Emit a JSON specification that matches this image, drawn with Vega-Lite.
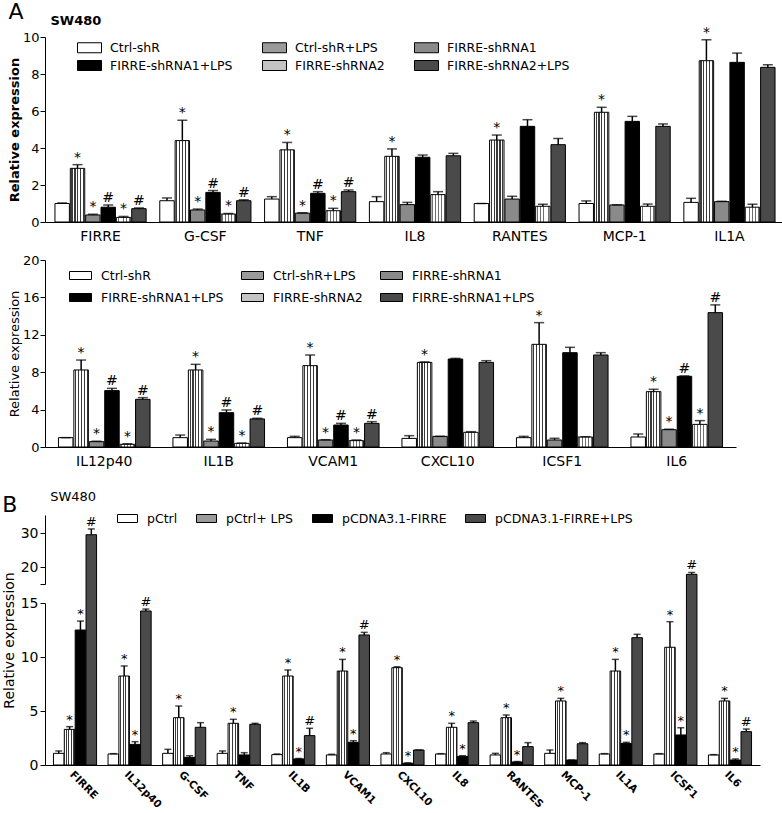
{
 "$schema": "https://vega.github.io/schema/vega-lite/v6.json",
 "padding": {"left": 2, "top": 0, "right": 0, "bottom": 0},
 "background": "white",
 "config": {
  "font": "DejaVu Sans",
  "view": {"stroke": null},
  "axis": {"domainColor": "#000", "tickColor": "#000", "labelColor": "#000", "titleColor": "#000", "grid": false, "domainWidth": 1, "tickWidth": 1, "labelOverlap": false},
  "legend": {"labelColor": "#000"},
  "title": {"color": "#000", "subtitleColor": "#000"}
 },
 "columns": 1, "align": "none", "spacing": 23,
 "resolve": {"scale": {"fill": "independent", "xOffset": "independent", "x": "independent", "y": "independent"}, "legend": {"fill": "independent"}},
 "datasets": {
  "a1": [
   {"g":"FIRRE","s":"Ctrl-shR","v":1.0,"hi":1.03,"lab":""},
   {"g":"FIRRE","s":"Ctrl-shR+LPS","v":2.9,"hi":3.1,"lab":"*"},
   {"g":"FIRRE","s":"FIRRE-shRNA1","v":0.38,"hi":0.42,"lab":"*"},
   {"g":"FIRRE","s":"FIRRE-shRNA1+LPS","v":0.8,"hi":0.92,"lab":"#"},
   {"g":"FIRRE","s":"FIRRE-shRNA2","v":0.25,"hi":0.3,"lab":"*"},
   {"g":"FIRRE","s":"FIRRE-shRNA2+LPS","v":0.72,"hi":0.76,"lab":"#"},
   {"g":"G-CSF","s":"Ctrl-shR","v":1.15,"hi":1.3,"lab":""},
   {"g":"G-CSF","s":"Ctrl-shR+LPS","v":4.4,"hi":5.5,"lab":"*"},
   {"g":"G-CSF","s":"FIRRE-shRNA1","v":0.65,"hi":0.7,"lab":"*"},
   {"g":"G-CSF","s":"FIRRE-shRNA1+LPS","v":1.6,"hi":1.7,"lab":"#"},
   {"g":"G-CSF","s":"FIRRE-shRNA2","v":0.43,"hi":0.46,"lab":"*"},
   {"g":"G-CSF","s":"FIRRE-shRNA2+LPS","v":1.15,"hi":1.2,"lab":"#"},
   {"g":"TNF","s":"Ctrl-shR","v":1.24,"hi":1.37,"lab":""},
   {"g":"TNF","s":"Ctrl-shR+LPS","v":3.9,"hi":4.3,"lab":"*"},
   {"g":"TNF","s":"FIRRE-shRNA1","v":0.48,"hi":0.5,"lab":"*"},
   {"g":"TNF","s":"FIRRE-shRNA1+LPS","v":1.55,"hi":1.64,"lab":"#"},
   {"g":"TNF","s":"FIRRE-shRNA2","v":0.61,"hi":0.74,"lab":"*"},
   {"g":"TNF","s":"FIRRE-shRNA2+LPS","v":1.64,"hi":1.73,"lab":"#"},
   {"g":"IL8","s":"Ctrl-shR","v":1.1,"hi":1.37,"lab":""},
   {"g":"IL8","s":"Ctrl-shR+LPS","v":3.55,"hi":3.95,"lab":"*"},
   {"g":"IL8","s":"FIRRE-shRNA1","v":0.94,"hi":1.06,"lab":""},
   {"g":"IL8","s":"FIRRE-shRNA1+LPS","v":3.5,"hi":3.62,"lab":""},
   {"g":"IL8","s":"FIRRE-shRNA2","v":1.48,"hi":1.64,"lab":""},
   {"g":"IL8","s":"FIRRE-shRNA2+LPS","v":3.58,"hi":3.71,"lab":""},
   {"g":"RANTES","s":"Ctrl-shR","v":1.0,"hi":1.0,"lab":""},
   {"g":"RANTES","s":"Ctrl-shR+LPS","v":4.43,"hi":4.7,"lab":"*"},
   {"g":"RANTES","s":"FIRRE-shRNA1","v":1.24,"hi":1.39,"lab":""},
   {"g":"RANTES","s":"FIRRE-shRNA1+LPS","v":5.17,"hi":5.53,"lab":""},
   {"g":"RANTES","s":"FIRRE-shRNA2","v":0.85,"hi":0.96,"lab":""},
   {"g":"RANTES","s":"FIRRE-shRNA2+LPS","v":4.18,"hi":4.52,"lab":""},
   {"g":"MCP-1","s":"Ctrl-shR","v":1.0,"hi":1.14,"lab":""},
   {"g":"MCP-1","s":"Ctrl-shR+LPS","v":5.93,"hi":6.2,"lab":"*"},
   {"g":"MCP-1","s":"FIRRE-shRNA1","v":0.92,"hi":0.93,"lab":""},
   {"g":"MCP-1","s":"FIRRE-shRNA1+LPS","v":5.44,"hi":5.71,"lab":""},
   {"g":"MCP-1","s":"FIRRE-shRNA2","v":0.85,"hi":0.97,"lab":""},
   {"g":"MCP-1","s":"FIRRE-shRNA2+LPS","v":5.17,"hi":5.3,"lab":""},
   {"g":"IL1A","s":"Ctrl-shR","v":1.06,"hi":1.28,"lab":""},
   {"g":"IL1A","s":"Ctrl-shR+LPS","v":8.72,"hi":9.85,"lab":"*"},
   {"g":"IL1A","s":"FIRRE-shRNA1","v":1.1,"hi":1.12,"lab":""},
   {"g":"IL1A","s":"FIRRE-shRNA1+LPS","v":8.63,"hi":9.13,"lab":""},
   {"g":"IL1A","s":"FIRRE-shRNA2","v":0.8,"hi":0.96,"lab":""},
   {"g":"IL1A","s":"FIRRE-shRNA2+LPS","v":8.36,"hi":8.5,"lab":""}
  ],
  "a2": [
   {"g":"IL12p40","s":"Ctrl-shR","v":1.0,"hi":1.0,"lab":""},
   {"g":"IL12p40","s":"Ctrl-shR+LPS","v":8.24,"hi":9.3,"lab":"*"},
   {"g":"IL12p40","s":"FIRRE-shRNA1","v":0.57,"hi":0.62,"lab":"*"},
   {"g":"IL12p40","s":"FIRRE-shRNA1+LPS","v":6.03,"hi":6.27,"lab":"#"},
   {"g":"IL12p40","s":"FIRRE-shRNA2","v":0.29,"hi":0.35,"lab":"*"},
   {"g":"IL12p40","s":"FIRRE-shRNA2+LPS","v":5.1,"hi":5.28,"lab":"#"},
   {"g":"IL1B","s":"Ctrl-shR","v":1.0,"hi":1.28,"lab":""},
   {"g":"IL1B","s":"Ctrl-shR+LPS","v":8.24,"hi":8.84,"lab":"*"},
   {"g":"IL1B","s":"FIRRE-shRNA1","v":0.64,"hi":0.82,"lab":"*"},
   {"g":"IL1B","s":"FIRRE-shRNA1+LPS","v":3.67,"hi":3.96,"lab":"#"},
   {"g":"IL1B","s":"FIRRE-shRNA2","v":0.39,"hi":0.42,"lab":"*"},
   {"g":"IL1B","s":"FIRRE-shRNA2+LPS","v":3.0,"hi":3.07,"lab":"#"},
   {"g":"VCAM1","s":"Ctrl-shR","v":1.0,"hi":1.14,"lab":""},
   {"g":"VCAM1","s":"Ctrl-shR+LPS","v":8.7,"hi":9.84,"lab":"*"},
   {"g":"VCAM1","s":"FIRRE-shRNA1","v":0.75,"hi":0.78,"lab":"*"},
   {"g":"VCAM1","s":"FIRRE-shRNA1+LPS","v":2.35,"hi":2.53,"lab":"#"},
   {"g":"VCAM1","s":"FIRRE-shRNA2","v":0.68,"hi":0.75,"lab":"*"},
   {"g":"VCAM1","s":"FIRRE-shRNA2+LPS","v":2.53,"hi":2.71,"lab":"#"},
   {"g":"CXCL10","s":"Ctrl-shR","v":0.92,"hi":1.21,"lab":""},
   {"g":"CXCL10","s":"Ctrl-shR+LPS","v":9.05,"hi":9.1,"lab":"*"},
   {"g":"CXCL10","s":"FIRRE-shRNA1","v":1.14,"hi":1.14,"lab":""},
   {"g":"CXCL10","s":"FIRRE-shRNA1+LPS","v":9.41,"hi":9.48,"lab":""},
   {"g":"CXCL10","s":"FIRRE-shRNA2","v":1.57,"hi":1.64,"lab":""},
   {"g":"CXCL10","s":"FIRRE-shRNA2+LPS","v":9.05,"hi":9.23,"lab":""},
   {"g":"ICSF1","s":"Ctrl-shR","v":1.0,"hi":1.14,"lab":""},
   {"g":"ICSF1","s":"Ctrl-shR+LPS","v":10.98,"hi":13.3,"lab":"*"},
   {"g":"ICSF1","s":"FIRRE-shRNA1","v":0.75,"hi":0.93,"lab":""},
   {"g":"ICSF1","s":"FIRRE-shRNA1+LPS","v":10.09,"hi":10.66,"lab":""},
   {"g":"ICSF1","s":"FIRRE-shRNA2","v":1.07,"hi":1.1,"lab":""},
   {"g":"ICSF1","s":"FIRRE-shRNA2+LPS","v":9.84,"hi":10.09,"lab":""},
   {"g":"IL6","s":"Ctrl-shR","v":1.07,"hi":1.39,"lab":""},
   {"g":"IL6","s":"Ctrl-shR+LPS","v":5.92,"hi":6.17,"lab":"*"},
   {"g":"IL6","s":"FIRRE-shRNA1","v":1.85,"hi":1.9,"lab":"*"},
   {"g":"IL6","s":"FIRRE-shRNA1+LPS","v":7.56,"hi":7.6,"lab":"#"},
   {"g":"IL6","s":"FIRRE-shRNA2","v":2.42,"hi":2.82,"lab":"*"},
   {"g":"IL6","s":"FIRRE-shRNA2+LPS","v":14.37,"hi":15.2,"lab":"#"}
  ],
  "b": [
   {"g":"FIRRE","s":"pCtrl","v":1.08,"hi":1.3,"lab":""},
   {"g":"FIRRE","s":"pCtrl+ LPS","v":3.3,"hi":3.55,"lab":"*"},
   {"g":"FIRRE","s":"pCDNA3.1-FIRRE","v":12.5,"hi":13.33,"lab":"*"},
   {"g":"FIRRE","s":"pCDNA3.1-FIRRE+LPS","v":29.5,"hi":31.2,"lab":"#"},
   {"g":"IL12p40","s":"pCtrl","v":1.02,"hi":1.05,"lab":""},
   {"g":"IL12p40","s":"pCtrl+ LPS","v":8.24,"hi":9.17,"lab":"*"},
   {"g":"IL12p40","s":"pCDNA3.1-FIRRE","v":1.91,"hi":2.16,"lab":"*"},
   {"g":"IL12p40","s":"pCDNA3.1-FIRRE+LPS","v":14.26,"hi":14.44,"lab":"#"},
   {"g":"G-CSF","s":"pCtrl","v":1.08,"hi":1.45,"lab":""},
   {"g":"G-CSF","s":"pCtrl+ LPS","v":4.38,"hi":5.46,"lab":"*"},
   {"g":"G-CSF","s":"pCDNA3.1-FIRRE","v":0.71,"hi":0.86,"lab":""},
   {"g":"G-CSF","s":"pCDNA3.1-FIRRE+LPS","v":3.49,"hi":3.92,"lab":""},
   {"g":"TNF","s":"pCtrl","v":1.08,"hi":1.3,"lab":""},
   {"g":"TNF","s":"pCtrl+ LPS","v":3.86,"hi":4.23,"lab":"*"},
   {"g":"TNF","s":"pCDNA3.1-FIRRE","v":0.93,"hi":1.14,"lab":""},
   {"g":"TNF","s":"pCDNA3.1-FIRRE+LPS","v":3.77,"hi":3.86,"lab":""},
   {"g":"IL1B","s":"pCtrl","v":0.96,"hi":1.02,"lab":""},
   {"g":"IL1B","s":"pCtrl+ LPS","v":8.24,"hi":8.8,"lab":"*"},
   {"g":"IL1B","s":"pCDNA3.1-FIRRE","v":0.56,"hi":0.6,"lab":"*"},
   {"g":"IL1B","s":"pCDNA3.1-FIRRE+LPS","v":2.72,"hi":3.4,"lab":"#"},
   {"g":"VCAM1","s":"pCtrl","v":0.93,"hi":0.99,"lab":""},
   {"g":"VCAM1","s":"pCtrl+ LPS","v":8.7,"hi":9.78,"lab":"*"},
   {"g":"VCAM1","s":"pCDNA3.1-FIRRE","v":2.1,"hi":2.25,"lab":"*"},
   {"g":"VCAM1","s":"pCDNA3.1-FIRRE+LPS","v":12.04,"hi":12.28,"lab":"#"},
   {"g":"CXCL10","s":"pCtrl","v":1.02,"hi":1.14,"lab":""},
   {"g":"CXCL10","s":"pCtrl+ LPS","v":9.01,"hi":9.1,"lab":"*"},
   {"g":"CXCL10","s":"pCDNA3.1-FIRRE","v":0.16,"hi":0.2,"lab":"*"},
   {"g":"CXCL10","s":"pCDNA3.1-FIRRE+LPS","v":1.39,"hi":1.39,"lab":""},
   {"g":"IL8","s":"pCtrl","v":1.02,"hi":1.05,"lab":""},
   {"g":"IL8","s":"pCtrl+ LPS","v":3.49,"hi":3.86,"lab":"*"},
   {"g":"IL8","s":"pCDNA3.1-FIRRE","v":0.8,"hi":0.86,"lab":"*"},
   {"g":"IL8","s":"pCDNA3.1-FIRRE+LPS","v":3.92,"hi":4.07,"lab":""},
   {"g":"RANTES","s":"pCtrl","v":0.93,"hi":1.08,"lab":""},
   {"g":"RANTES","s":"pCtrl+ LPS","v":4.38,"hi":4.63,"lab":"*"},
   {"g":"RANTES","s":"pCDNA3.1-FIRRE","v":0.28,"hi":0.32,"lab":"*"},
   {"g":"RANTES","s":"pCDNA3.1-FIRRE+LPS","v":1.7,"hi":2.07,"lab":""},
   {"g":"MCP-1","s":"pCtrl","v":1.08,"hi":1.39,"lab":""},
   {"g":"MCP-1","s":"pCtrl+ LPS","v":5.93,"hi":6.17,"lab":"*"},
   {"g":"MCP-1","s":"pCDNA3.1-FIRRE","v":0.46,"hi":0.46,"lab":""},
   {"g":"MCP-1","s":"pCDNA3.1-FIRRE+LPS","v":1.97,"hi":2.07,"lab":""},
   {"g":"IL1A","s":"pCtrl","v":1.02,"hi":1.05,"lab":""},
   {"g":"IL1A","s":"pCtrl+ LPS","v":8.7,"hi":9.78,"lab":"*"},
   {"g":"IL1A","s":"pCDNA3.1-FIRRE","v":2.0,"hi":2.1,"lab":"*"},
   {"g":"IL1A","s":"pCDNA3.1-FIRRE+LPS","v":11.79,"hi":12.1,"lab":""},
   {"g":"ICSF1","s":"pCtrl","v":1.02,"hi":1.05,"lab":""},
   {"g":"ICSF1","s":"pCtrl+ LPS","v":10.9,"hi":13.27,"lab":"*"},
   {"g":"ICSF1","s":"pCDNA3.1-FIRRE","v":2.78,"hi":3.45,"lab":"*"},
   {"g":"ICSF1","s":"pCDNA3.1-FIRRE+LPS","v":17.85,"hi":18.4,"lab":"#"},
   {"g":"IL6","s":"pCtrl","v":0.93,"hi":0.96,"lab":""},
   {"g":"IL6","s":"pCtrl+ LPS","v":5.93,"hi":6.17,"lab":"*"},
   {"g":"IL6","s":"pCDNA3.1-FIRRE","v":0.46,"hi":0.56,"lab":"*"},
   {"g":"IL6","s":"pCDNA3.1-FIRRE+LPS","v":3.09,"hi":3.33,"lab":"#"}
  ]
 },
 "concat": [
  {
   "title": {"text": "A", "anchor": "start", "fontSize": 22, "fontWeight": "normal", "offset": -9},
   "columns": 1, "align": "none", "spacing": 11,
   "resolve": {"scale": {"fill": "independent", "xOffset": "independent", "x": "independent", "y": "independent"}, "legend": {"fill": "independent"}},
   "concat": [
    {
     "title": {"text": "SW480", "anchor": "start", "fontSize": 13, "fontWeight": "bold", "dx": 42, "offset": -2},
     "width": 740, "height": 185,
     "data": {"name": "a1"},
     "encoding": {
      "x": {"field": "g", "type": "nominal", "sort": null, "scale": {"paddingInner": 0.13, "paddingOuter": 0.095}, "axis": {"title": null, "ticks": false, "labelAngle": 0, "labelFontSize": 14, "labelPadding": 7}},
      "xOffset": {"field": "s", "type": "nominal", "sort": null, "scale": {"paddingInner": 0.06}}
     },
     "layer": [
      {"mark": {"type": "bar", "stroke": "#000", "strokeWidth": 1},
       "encoding": {
        "y": {"field": "v", "type": "quantitative", "scale": {"domain": [0, 10], "nice": false}, "axis": {"values": [0, 2, 4, 6, 8, 10], "tickCount": 12, "labelOverlap": false, "labelFlush": false, "title": "Relative expression", "titleFontWeight": "bold", "titleFontSize": 13, "labelFontSize": 13, "tickSize": 5, "titlePadding": 1, "labelPadding": 1}},
        "fill": {"field": "s", "type": "nominal", "sort": null,
         "condition": [
          {"test": "datum.s === 'Ctrl-shR+LPS'", "value": {"gradient": "linear", "x1": 0, "y1": 0, "x2": 1, "y2": 0, "stops": [{"offset": 0, "color": "#ffffff"}, {"offset": 0.08, "color": "#ffffff"}, {"offset": 0.08, "color": "#3a3a3a"}, {"offset": 0.16, "color": "#3a3a3a"}, {"offset": 0.16, "color": "#ffffff"}, {"offset": 0.28, "color": "#ffffff"}, {"offset": 0.28, "color": "#3a3a3a"}, {"offset": 0.36, "color": "#3a3a3a"}, {"offset": 0.36, "color": "#ffffff"}, {"offset": 0.48, "color": "#ffffff"}, {"offset": 0.48, "color": "#3a3a3a"}, {"offset": 0.56, "color": "#3a3a3a"}, {"offset": 0.56, "color": "#ffffff"}, {"offset": 0.68, "color": "#ffffff"}, {"offset": 0.68, "color": "#3a3a3a"}, {"offset": 0.76, "color": "#3a3a3a"}, {"offset": 0.76, "color": "#ffffff"}, {"offset": 0.88, "color": "#ffffff"}, {"offset": 0.88, "color": "#3a3a3a"}, {"offset": 0.96, "color": "#3a3a3a"}, {"offset": 0.96, "color": "#ffffff"}, {"offset": 1, "color": "#ffffff"}]}},
          {"test": "datum.s === 'FIRRE-shRNA2'", "value": {"gradient": "linear", "x1": 0, "y1": 0, "x2": 1, "y2": 0, "stops": [{"offset": 0, "color": "#ffffff"}, {"offset": 0.09, "color": "#ffffff"}, {"offset": 0.09, "color": "#707070"}, {"offset": 0.15, "color": "#707070"}, {"offset": 0.15, "color": "#ffffff"}, {"offset": 0.29, "color": "#ffffff"}, {"offset": 0.29, "color": "#707070"}, {"offset": 0.35, "color": "#707070"}, {"offset": 0.35, "color": "#ffffff"}, {"offset": 0.49, "color": "#ffffff"}, {"offset": 0.49, "color": "#707070"}, {"offset": 0.55, "color": "#707070"}, {"offset": 0.55, "color": "#ffffff"}, {"offset": 0.69, "color": "#ffffff"}, {"offset": 0.69, "color": "#707070"}, {"offset": 0.75, "color": "#707070"}, {"offset": 0.75, "color": "#ffffff"}, {"offset": 0.89, "color": "#ffffff"}, {"offset": 0.89, "color": "#707070"}, {"offset": 0.95, "color": "#707070"}, {"offset": 0.95, "color": "#ffffff"}, {"offset": 1, "color": "#ffffff"}]}}
         ],
         "scale": {"domain": ["Ctrl-shR", "Ctrl-shR+LPS", "FIRRE-shRNA1", "FIRRE-shRNA1+LPS", "FIRRE-shRNA2", "FIRRE-shRNA2+LPS"], "range": ["#ffffff", "#9a9a9a", "#8a8a8a", "#000000", "#c4c4c4", "#4a4a4a"]},
         "legend": {"title": null, "orient": "none", "legendX": 34, "legendY": 0, "direction": "horizontal", "columns": 3, "symbolType": "M-1.2,-0.5H1.2V0.5H-1.2Z", "symbolSize": 400, "symbolStrokeColor": "#000", "symbolStrokeWidth": 1, "labelFontSize": 12.5, "labelOffset": 10, "columnPadding": 27, "rowPadding": 0, "padding": 0}}
       }},
      {"mark": {"type": "rule", "color": "#000", "strokeWidth": 1.5}, "encoding": {"y": {"field": "v", "type": "quantitative"}, "y2": {"field": "hi"}}},
      {"mark": {"type": "tick", "color": "#000", "thickness": 1.5, "size": 10}, "encoding": {"y": {"field": "hi", "type": "quantitative"}}},
      {"mark": {"type": "text", "fontSize": 14, "dy": -3, "baseline": "alphabetic", "color": "#000"}, "encoding": {"y": {"field": "hi", "type": "quantitative"}, "text": {"field": "lab"}}}
     ]
    },
    {
     "width": 691, "height": 187,
     "data": {"name": "a2"},
     "encoding": {
      "x": {"field": "g", "type": "nominal", "sort": null, "scale": {"paddingInner": 0.2, "paddingOuter": 0.1175}, "axis": {"title": null, "ticks": false, "labelAngle": 0, "labelFontSize": 14, "labelPadding": 7}},
      "xOffset": {"field": "s", "type": "nominal", "sort": null, "scale": {"paddingInner": 0.06}}
     },
     "layer": [
      {"mark": {"type": "bar", "stroke": "#000", "strokeWidth": 1},
       "encoding": {
        "y": {"field": "v", "type": "quantitative", "scale": {"domain": [0, 20], "nice": false}, "axis": {"values": [0, 4, 8, 12, 16, 20], "tickCount": 12, "labelOverlap": false, "labelFlush": false, "title": "Relative expression", "titleFontWeight": "normal", "titleFontSize": 13, "labelFontSize": 13, "tickSize": 5, "titlePadding": 1, "labelPadding": 1}},
        "fill": {"field": "s", "type": "nominal", "sort": null,
         "condition": [
          {"test": "datum.s === 'Ctrl-shR+LPS'", "value": {"gradient": "linear", "x1": 0, "y1": 0, "x2": 1, "y2": 0, "stops": [{"offset": 0, "color": "#ffffff"}, {"offset": 0.08, "color": "#ffffff"}, {"offset": 0.08, "color": "#3a3a3a"}, {"offset": 0.16, "color": "#3a3a3a"}, {"offset": 0.16, "color": "#ffffff"}, {"offset": 0.28, "color": "#ffffff"}, {"offset": 0.28, "color": "#3a3a3a"}, {"offset": 0.36, "color": "#3a3a3a"}, {"offset": 0.36, "color": "#ffffff"}, {"offset": 0.48, "color": "#ffffff"}, {"offset": 0.48, "color": "#3a3a3a"}, {"offset": 0.56, "color": "#3a3a3a"}, {"offset": 0.56, "color": "#ffffff"}, {"offset": 0.68, "color": "#ffffff"}, {"offset": 0.68, "color": "#3a3a3a"}, {"offset": 0.76, "color": "#3a3a3a"}, {"offset": 0.76, "color": "#ffffff"}, {"offset": 0.88, "color": "#ffffff"}, {"offset": 0.88, "color": "#3a3a3a"}, {"offset": 0.96, "color": "#3a3a3a"}, {"offset": 0.96, "color": "#ffffff"}, {"offset": 1, "color": "#ffffff"}]}},
          {"test": "datum.s === 'FIRRE-shRNA2'", "value": {"gradient": "linear", "x1": 0, "y1": 0, "x2": 1, "y2": 0, "stops": [{"offset": 0, "color": "#ffffff"}, {"offset": 0.09, "color": "#ffffff"}, {"offset": 0.09, "color": "#707070"}, {"offset": 0.15, "color": "#707070"}, {"offset": 0.15, "color": "#ffffff"}, {"offset": 0.29, "color": "#ffffff"}, {"offset": 0.29, "color": "#707070"}, {"offset": 0.35, "color": "#707070"}, {"offset": 0.35, "color": "#ffffff"}, {"offset": 0.49, "color": "#ffffff"}, {"offset": 0.49, "color": "#707070"}, {"offset": 0.55, "color": "#707070"}, {"offset": 0.55, "color": "#ffffff"}, {"offset": 0.69, "color": "#ffffff"}, {"offset": 0.69, "color": "#707070"}, {"offset": 0.75, "color": "#707070"}, {"offset": 0.75, "color": "#ffffff"}, {"offset": 0.89, "color": "#ffffff"}, {"offset": 0.89, "color": "#707070"}, {"offset": 0.95, "color": "#707070"}, {"offset": 0.95, "color": "#ffffff"}, {"offset": 1, "color": "#ffffff"}]}}
         ],
         "scale": {"domain": ["Ctrl-shR", "Ctrl-shR+LPS", "FIRRE-shRNA1", "FIRRE-shRNA1+LPS", "FIRRE-shRNA2", "FIRRE-shRNA2+LPS"], "range": ["#ffffff", "#9a9a9a", "#8a8a8a", "#000000", "#c4c4c4", "#4a4a4a"]},
         "legend": {"title": null, "orient": "none", "legendX": 25, "legendY": 5, "direction": "horizontal", "columns": 3, "symbolType": "M-1.1,-0.4H1.1V0.4H-1.1Z", "symbolSize": 400, "symbolStrokeColor": "#000", "symbolStrokeWidth": 1, "labelFontSize": 12.5, "labelOffset": 10, "columnPadding": 15, "rowPadding": 5, "padding": 0, "labelExpr": "datum.label === 'FIRRE-shRNA2+LPS' ? 'FIRRE-shRNA1+LPS' : datum.label"}}
       }},
      {"mark": {"type": "rule", "color": "#000", "strokeWidth": 1.5}, "encoding": {"y": {"field": "v", "type": "quantitative"}, "y2": {"field": "hi"}}},
      {"mark": {"type": "tick", "color": "#000", "thickness": 1.5, "size": 10}, "encoding": {"y": {"field": "hi", "type": "quantitative"}}},
      {"mark": {"type": "text", "fontSize": 14, "dy": -3, "baseline": "alphabetic", "color": "#000"}, "encoding": {"y": {"field": "hi", "type": "quantitative"}, "text": {"field": "lab"}}}
     ]
    }
   ]
  },
  {
   "title": {"text": "B", "anchor": "start", "fontSize": 22, "fontWeight": "normal", "offset": -26},
   "columns": 1, "align": "none",
   "resolve": {"scale": {"fill": "independent", "xOffset": "independent", "x": "independent", "y": "independent"}, "legend": {"fill": "independent"}},
   "concat": [
    {
     "title": {"text": "SW480", "anchor": "start", "fontSize": 13, "fontWeight": "normal", "dx": 48, "offset": 4},
     "width": 715, "height": 250,
     "data": {"name": "b"},
     "encoding": {
      "x": {"field": "g", "type": "nominal", "sort": null, "scale": {"paddingInner": 0.21, "paddingOuter": 0.155}, "axis": {"title": null, "ticks": false, "labelAngle": 45, "labelAlign": "left", "labelBaseline": "top", "labelFontSize": 10.5, "labelFontWeight": "bold", "labelPadding": 4, "labelDx": -4}},
      "xOffset": {"field": "s", "type": "nominal", "sort": null, "scale": {"paddingInner": 0.03}}
     },
     "layer": [
      {"mark": {"type": "bar", "stroke": "#000", "strokeWidth": 1},
       "encoding": {
        "y": {"field": "v", "type": "quantitative", "scale": {"domain": [0, 15, 15.01, 35.3], "range": [250, 88, 69, 0], "nice": false, "zero": false}, "axis": {"values": [0, 5, 10, 15, 15.01, 20, 30], "tickCount": 12, "labelOverlap": false, "labelExpr": "datum.value > 15 && datum.value < 16 ? '' : datum.label", "title": "Relative expression", "titleFontWeight": "normal", "titleFontSize": 14, "labelFontSize": 14, "tickSize": 5, "titlePadding": 4, "labelPadding": 2, "domainDash": [162, 19, 200]}},
        "fill": {"field": "s", "type": "nominal", "sort": null,
         "condition": [
          {"test": "datum.s === 'pCtrl+ LPS'", "value": {"gradient": "linear", "x1": 0, "y1": 0, "x2": 1, "y2": 0, "stops": [{"offset": 0, "color": "#ffffff"}, {"offset": 0.12, "color": "#ffffff"}, {"offset": 0.12, "color": "#3a3a3a"}, {"offset": 0.22, "color": "#3a3a3a"}, {"offset": 0.22, "color": "#ffffff"}, {"offset": 0.37, "color": "#ffffff"}, {"offset": 0.37, "color": "#3a3a3a"}, {"offset": 0.47, "color": "#3a3a3a"}, {"offset": 0.47, "color": "#ffffff"}, {"offset": 0.62, "color": "#ffffff"}, {"offset": 0.62, "color": "#3a3a3a"}, {"offset": 0.72, "color": "#3a3a3a"}, {"offset": 0.72, "color": "#ffffff"}, {"offset": 0.87, "color": "#ffffff"}, {"offset": 0.87, "color": "#3a3a3a"}, {"offset": 0.97, "color": "#3a3a3a"}, {"offset": 0.97, "color": "#ffffff"}, {"offset": 1, "color": "#ffffff"}]}}
         ],
         "scale": {"domain": ["pCtrl", "pCtrl+ LPS", "pCDNA3.1-FIRRE", "pCDNA3.1-FIRRE+LPS"], "range": ["#ffffff", "#9a9a9a", "#000000", "#4a4a4a"]},
         "legend": {"title": null, "orient": "none", "legendX": 72, "legendY": -7, "direction": "horizontal", "columns": 4, "symbolType": "M-1,-0.4H1V0.4H-1Z", "symbolSize": 400, "symbolStrokeColor": "#000", "symbolStrokeWidth": 1, "labelFontSize": 12.5, "labelOffset": 9, "columnPadding": 16, "padding": 0}}
       }},
      {"mark": {"type": "rule", "color": "#000", "strokeWidth": 1.5}, "encoding": {"y": {"field": "v", "type": "quantitative"}, "y2": {"field": "hi"}}},
      {"mark": {"type": "tick", "color": "#000", "thickness": 1.5, "size": 7}, "encoding": {"y": {"field": "hi", "type": "quantitative"}}},
      {"mark": {"type": "text", "fontSize": 13, "dy": -3, "baseline": "alphabetic", "color": "#000"}, "encoding": {"y": {"field": "hi", "type": "quantitative"}, "text": {"field": "lab"}}}
     ]
    }
   ]
  }
 ]
}
